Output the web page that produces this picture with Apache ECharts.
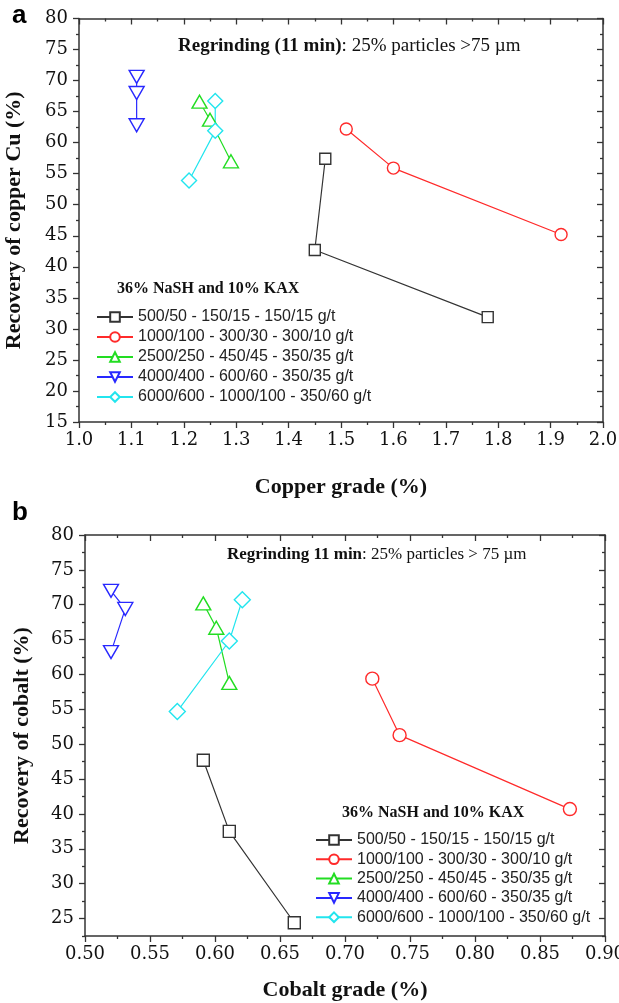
<!DOCTYPE html>
<html><head><meta charset="utf-8">
<script src="https://cdn.jsdelivr.net/npm/echarts@6/dist/echarts.min.js"></script>
<style>html,body{margin:0;padding:0;background:#fff}#c{width:619px;height:1003px}</style>
</head><body><div id="c"></div>
<script>
// ---------- data ----------
const seriesNames = [
  '500/50 - 150/15 - 150/15 g/t',
  '1000/100 - 300/30 - 300/10 g/t',
  '2500/250 - 450/45 - 350/35 g/t',
  '4000/400 - 600/60 - 350/35 g/t',
  '6000/600 - 1000/100 - 350/60 g/t'
];
// panel a: [copper grade %, copper recovery %]
const copper500  = [[1.47, 57.4], [1.45, 42.7], [1.78, 31.9]];
const copper1000 = [[1.51, 62.2], [1.60, 55.9], [1.92, 45.2]];
const copper2500 = [[1.23, 66.6], [1.25, 63.7], [1.29, 57.0]];
const copper4000 = [[1.11, 70.6], [1.11, 68.0], [1.11, 62.8]];
const copper6000 = [[1.26, 66.7], [1.26, 61.9], [1.21, 53.9]];
// panel b: [cobalt grade %, cobalt recovery %]
const cobalt500  = [[0.591, 47.7], [0.611, 37.5], [0.661, 24.4]];
const cobalt1000 = [[0.721, 59.4], [0.742, 51.3], [0.873, 40.7]];
const cobalt2500 = [[0.591, 70.2], [0.601, 66.7], [0.611, 58.8]];
const cobalt4000 = [[0.520, 72.0], [0.531, 69.4], [0.520, 63.2]];
const cobalt6000 = [[0.571, 54.7], [0.611, 64.8], [0.621, 70.7]];
// tick labels
const copperXTicks = [1.0, 1.1, 1.2, 1.3, 1.4, 1.5, 1.6, 1.7, 1.8, 1.9, 2.0];
const copperYTicks = [15, 20, 25, 30, 35, 40, 45, 50, 55, 60, 65, 70, 75, 80];
const cobaltXTicks = [0.50, 0.55, 0.60, 0.65, 0.70, 0.75, 0.80, 0.85, 0.90];
const cobaltYTicks = [25, 30, 35, 40, 45, 50, 55, 60, 65, 70, 75, 80];

// ---------- styles ----------
const colors = ['#333333', '#ff2a2a', '#22dd22', '#2828ff', '#22e5ee'];
const symbols = ['rect', 'circle', 'triangle', 'path://M0,0L10,0L5,8.66Z', 'diamond'];
const symSizesA = [11, 12, [15, 13], [15, 13], 15];
const symSizesB = [12, 13, [15, 13], [15, 13], 16];
const serif = 'Liberation Serif';
const tickFont = 'DejaVu Serif';
const sans = 'Liberation Sans';
const axisColor = '#333';

function mids(arr, lo) {
  const out = [];
  const step = arr[1] - arr[0];
  for (let i = 0; i < arr.length - 1; i++) out.push(arr[i] + step / 2);
  if (lo !== undefined && arr[0] - step / 2 >= lo - 1e-9) out.unshift(arr[0] - step / 2);
  return out;
}

function makeAxes(dim, grid, min, max, majors, minors, fmt, name, nameGap, posMain, posMirror) {
  const base = {type: 'value', gridIndex: grid, min: min, max: max, splitLine: {show: false}, silent: true};
  const line = {show: true, onZero: false, lineStyle: {color: axisColor, width: 1.5}};
  const tickStyle = {color: axisColor, width: 1.3};
  return [
    Object.assign({}, base, {
      position: posMain, axisLine: line,
      axisTick: {show: true, inside: false, length: 6, customValues: majors, lineStyle: tickStyle},
      axisLabel: {show: true, customValues: majors, formatter: fmt,
        margin: dim === 'x' ? 9 : 11, fontFamily: tickFont, fontSize: 18, color: '#111'},
      name: name, nameLocation: 'middle', nameGap: nameGap,
      nameTextStyle: {fontFamily: serif, fontWeight: 'bold', fontSize: 22, color: '#111'}
    }),
    Object.assign({}, base, {
      position: posMain, axisLine: {show: false, onZero: false},
      axisTick: {show: true, inside: false, length: 3, customValues: minors, lineStyle: tickStyle},
      axisLabel: {show: false}
    }),
    Object.assign({}, base, {
      position: posMirror, axisLine: line,
      axisTick: {show: true, inside: true, length: 6, customValues: majors, lineStyle: tickStyle},
      axisLabel: {show: false}
    }),
    Object.assign({}, base, {
      position: posMirror, axisLine: {show: false, onZero: false},
      axisTick: {show: true, inside: true, length: 3, customValues: minors, lineStyle: tickStyle},
      axisLabel: {show: false}
    })
  ];
}

const xAxes = [].concat(
  makeAxes('x', 0, 1.0, 2.0, copperXTicks, mids(copperXTicks), v => v.toFixed(1), 'Copper grade (%)', 54, 'bottom', 'top'),
  makeAxes('x', 1, 0.5, 0.9, cobaltXTicks, mids(cobaltXTicks), v => v.toFixed(2), 'Cobalt grade (%)', 43, 'bottom', 'top')
);
const yAxes = [].concat(
  makeAxes('y', 0, 15, 80, copperYTicks, mids(copperYTicks), v => String(v), 'Recovery of copper Cu (%)', 54, 'left', 'right'),
  makeAxes('y', 1, 22.5, 80, cobaltYTicks, mids(cobaltYTicks, 22.5), v => String(v), 'Recovery of cobalt (%)', 52, 'left', 'right')
);

const copperData = [copper500, copper1000, copper2500, copper4000, copper6000];
const cobaltData = [cobalt500, cobalt1000, cobalt2500, cobalt4000, cobalt6000];

function mkSeries(data, i, axisIdx, sizes) {
  return {
    type: 'line', name: seriesNames[i], data: data,
    xAxisIndex: axisIdx, yAxisIndex: axisIdx,
    symbol: symbols[i], symbolSize: sizes[i], showAllSymbol: true,
    itemStyle: {color: '#ffffff', borderColor: colors[i], borderWidth: 1.4},
    lineStyle: {color: colors[i], width: 1.2},
    emphasis: {disabled: true}, z: 3
  };
}
const series = [];
copperData.forEach((d, i) => series.push(mkSeries(d, i, 0, symSizesA)));
cobaltData.forEach((d, i) => series.push(mkSeries(d, i, 4, symSizesB)));

const legendText = {fontFamily: sans, fontSize: 16, color: '#222', lineHeight: 16};

const option = {
  animation: false,
  backgroundColor: '#ffffff',
  grid: [
    {left: 79, top: 18.5, width: 524, height: 403.5, containLabel: false, outerBoundsMode: 'none'},
    {left: 85, top: 535, width: 520, height: 401, containLabel: false, outerBoundsMode: 'none'}
  ],
  xAxis: xAxes,
  yAxis: yAxes,
  title: [
    {text: 'a', left: 12, top: 3, padding: 0, textStyle: {fontFamily: sans, fontWeight: 'bold', fontSize: 26, color: '#000'}},
    {text: 'b', left: 12, top: 500, padding: 0, textStyle: {fontFamily: sans, fontWeight: 'bold', fontSize: 26, color: '#000'}},
    {text: '{b|Regrinding (11 min)}{n|: 25% particles >75 µm}', left: 178, top: 37, padding: 0,
      textStyle: {fontWeight: 'normal', rich: {
        b: {fontFamily: serif, fontWeight: 'bold', fontSize: 19, color: '#111'},
        n: {fontFamily: serif, fontWeight: 'normal', fontSize: 19, color: '#111'}}}},
    {text: '{b|Regrinding 11 min}{n|: 25% particles > 75 µm}', left: 227, top: 546, padding: 0,
      textStyle: {fontWeight: 'normal', rich: {
        b: {fontFamily: serif, fontWeight: 'bold', fontSize: 17, color: '#111'},
        n: {fontFamily: serif, fontWeight: 'normal', fontSize: 17, color: '#111'}}}},
    {text: '36% NaSH and 10% KAX', left: 117, top: 281, padding: 0,
      textStyle: {fontFamily: serif, fontWeight: 'bold', fontSize: 16, color: '#111'}},
    {text: '36% NaSH and 10% KAX', left: 342, top: 805, padding: 0,
      textStyle: {fontFamily: serif, fontWeight: 'bold', fontSize: 16, color: '#111'}}
  ],
  legend: [
    {data: seriesNames, orient: 'vertical', left: 96, top: 309, padding: 0,
      itemWidth: 36, itemHeight: 12, itemGap: 4, selectedMode: false, textStyle: legendText},
    {data: seriesNames, orient: 'vertical', left: 315, top: 832, padding: 0,
      itemWidth: 36, itemHeight: 12, itemGap: 3.3, selectedMode: false, textStyle: legendText}
  ],
  series: series
};

const chart = echarts.init(document.getElementById('c'), null, {renderer: 'canvas'});
chart.setOption(option);
</script>
</body></html>
